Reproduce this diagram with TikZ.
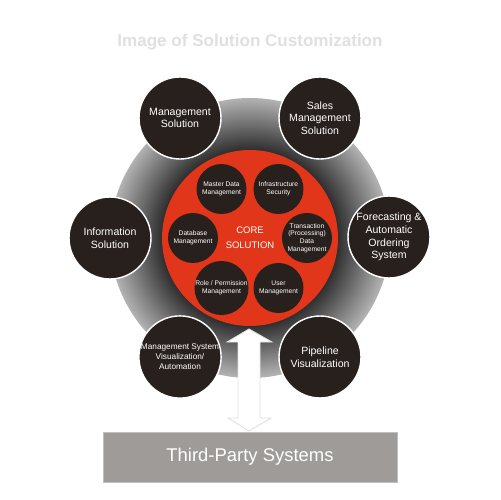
\documentclass[tikz,border=0pt]{standalone}
\usepackage{fontspec}
\setmainfont{Liberation Sans}
\usetikzlibrary{calc}
\definecolor{darkc}{RGB}{40,32,29}
\definecolor{corered}{RGB}{226,54,26}
\definecolor{boxgray}{RGB}{158,155,153}
\tikzset{
  outer/.style={circle, fill=darkc, draw=white, line width=0.8pt, minimum size=1.64cm, inner sep=0pt,
    text=white, align=center, font=\fontsize{6}{7.2}\selectfont},
  innerc/.style={circle, fill=darkc, minimum size=1.0cm, inner sep=0pt,
    text=white, align=center, font=\fontsize{3.8}{4.4}\selectfont},
}
\begin{document}
\begin{tikzpicture}[x=0.02cm,y=-0.02cm]
\path[use as bounding box, fill=white] (0,0) rectangle (500,500);
% title
\node (title) at (250,42) {\textcolor{black!12}{\fontsize{9.7}{11}\selectfont\bfseries Image of Solution Customization}};
% ring with stepped gradient
\coordinate (c) at (250,238);
\foreach \i in {0,...,52} {
  \pgfmathtruncatemacro\p{30+\i}
  \fill[black!\p] (c) circle[radius=140-\i];
}
% outer circles
\node[outer] (ms) at (180,118) {Management\\Solution};
\node[outer] (sm) at (320,118) {Sales\\Management\\Solution};
\node[outer] (is) at (110,238) {Information\\Solution};
\node[outer] (fc) at (389,237) {Forecasting \&\\Automatic\\Ordering\\System};
\node[outer, font=\fontsize{4.7}{5.7}\selectfont] (mv) at (180,357) {Management System\\Visualization/\\Automation};
\node[outer] (pv) at (320,357) {Pipeline\\Visualization};
% core
\node[circle, fill=corered, minimum size=3.52cm, inner sep=0pt, text=white, align=center,
  font=\fontsize{5.4}{8.3}\selectfont] (core) at (c) {CORE\\SOLUTION};
\node[innerc] (md) at (221.5,189) {Master Data\\Management};
\node[innerc] (inf) at (278.5,189) {Infrastructure\\Security};
\node[innerc] (db) at (193,238) {Database\\Management};
\node[innerc] (tr) at (307,238) {Transaction\\(Processing)\\Data\\Management};
\node[innerc] (rp) at (221.5,288) {Role / Permission\\Management};
\node[innerc] (um) at (278.5,288) {User\\Management};
% box
\node[draw=black!25, fill=boxgray, minimum width=5.88cm, minimum height=1.0cm, inner sep=0pt,
  text=white, font=\fontsize{10.5}{12}\selectfont] (tp) at (250,457) {Third-Party Systems};
% double arrow
\draw[fill=white, draw=black!12, line width=0.5pt]
  (249,329) -- (272,342) -- (260,342) -- (260,418) -- (271,418) -- (249,431)
  -- (228,418) -- (238,418) -- (238,342) -- (227,342) -- cycle;
\end{tikzpicture}
\end{document}
